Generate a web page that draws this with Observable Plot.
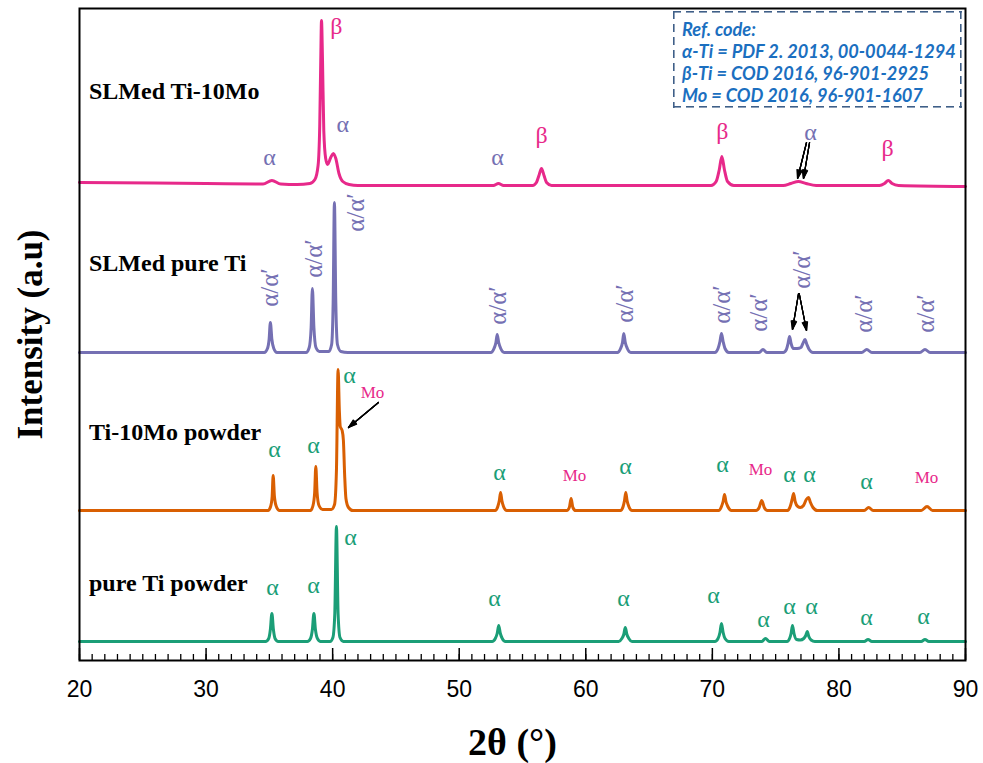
<!DOCTYPE html>
<html>
<head>
<meta charset="utf-8">
<script src="https://cdn.jsdelivr.net/npm/d3@7"></script>
<script src="https://cdn.jsdelivr.net/npm/@observablehq/plot@0.6"></script>
<style>
  body { margin: 0; background: #fff; }
  #chart { position: relative; width: 983px; height: 763px; }
  #ref {
    position: absolute; left: 673px; top: 11px; width: 289px; height: 97px;
    box-sizing: border-box; padding: 7px 0 0 9px;
    font-family: Lato, "Liberation Sans", sans-serif; font-weight: bold; font-style: italic;
    font-size: 18.2px; line-height: 22px; color: #1b6fc0; white-space: nowrap;
    background:
      repeating-linear-gradient(90deg, #3f5f88 0 8px, transparent 8px 13px) top left / 100% 1.6px no-repeat,
      repeating-linear-gradient(90deg, #3f5f88 0 8px, transparent 8px 13px) bottom left / 100% 1.6px no-repeat,
      repeating-linear-gradient(180deg, #3f5f88 0 8px, transparent 8px 13px) top left / 1.6px 100% no-repeat,
      repeating-linear-gradient(180deg, #3f5f88 0 8px, transparent 8px 13px) top right / 1.6px 100% no-repeat;
  }
</style>
</head>
<body>
<div id="chart">
  <div id="ref">
    <div>Ref. code:</div>
    <div>α-Ti = PDF 2. 2013, 00-0044-1294</div>
    <div>β-Ti = COD 2016, 96-901-2925</div>
    <div>Mo = COD 2016, 96-901-1607</div>
  </div>
</div>
<script>
// XRD patterns, 2θ (degrees) vs. intensity above each pattern's own baseline (a.u.)
const pureTiPowder = [
  [20, 0], [34.7, 0], [34.95, 3], [35.08, 12], [35.2, 28], [35.32, 12], [35.45, 3], [35.7, 0],
  [38.0, 0], [38.25, 3], [38.4, 12], [38.52, 28], [38.64, 12], [38.8, 3], [39.05, 0],
  [39.8, 0], [40.02, 4], [40.17, 28], [40.3, 115], [40.43, 28], [40.58, 4], [40.85, 0],
  [52.6, 0], [52.85, 3], [53.0, 8], [53.12, 16], [53.25, 8], [53.4, 3], [53.65, 0],
  [62.6, 0], [62.85, 3], [63.0, 7], [63.12, 14], [63.25, 7], [63.4, 3], [63.65, 0],
  [70.2, 0], [70.45, 3], [70.6, 9], [70.72, 18], [70.85, 9], [71.0, 3], [71.3, 0],
  [73.9, 0], [74.2, 3], [74.5, 0],
  [75.9, 0], [76.1, 3], [76.22, 8], [76.33, 16], [76.45, 8], [76.65, 2], [76.95, 1.5],
  [77.22, 3], [77.38, 6], [77.5, 10], [77.62, 5], [77.8, 1.5], [78.1, 0],
  [82.0, 0], [82.3, 2], [82.6, 0],
  [86.5, 0], [86.8, 2], [87.1, 0], [90, 0]
];
const ti10MoPowder = [
  [20, 0], [34.9, 0], [35.1, 4], [35.22, 14], [35.3, 35], [35.4, 14], [35.55, 4], [35.8, 0],
  [38.25, 0], [38.45, 5], [38.58, 18], [38.67, 44], [38.77, 18], [38.92, 5], [39.2, 1],
  [39.9, 1], [40.15, 6], [40.3, 40], [40.43, 141], [40.53, 100], [40.6, 84], [40.75, 80],
  [40.85, 70], [40.95, 35], [41.05, 12], [41.25, 3], [41.6, 0],
  [52.85, 0], [53.05, 4], [53.17, 10], [53.27, 18], [53.37, 10], [53.5, 4], [53.75, 0],
  [58.5, 0], [58.7, 3], [58.84, 12], [58.98, 3], [59.2, 0],
  [62.75, 0], [62.95, 4], [63.06, 10], [63.16, 18], [63.26, 10], [63.4, 4], [63.65, 0],
  [70.5, 0], [70.72, 4], [70.85, 9], [70.96, 16], [71.07, 9], [71.22, 4], [71.5, 0],
  [73.45, 0], [73.7, 3], [73.9, 10], [74.1, 3], [74.35, 0],
  [75.95, 0], [76.15, 4], [76.3, 11], [76.42, 17], [76.54, 9], [76.75, 4], [76.95, 3],
  [77.2, 5], [77.42, 11], [77.6, 13], [77.75, 8], [77.95, 3], [78.3, 0],
  [82.0, 0], [82.35, 3], [82.7, 0],
  [86.5, 0], [86.96, 4], [87.4, 0], [90, 0]
];
const slmPureTi = [
  [20, 0], [34.6, 0], [34.85, 4], [34.98, 13], [35.08, 30], [35.2, 13], [35.35, 4], [35.6, 0],
  [37.9, 0], [38.15, 5], [38.3, 25], [38.4, 64], [38.52, 25], [38.68, 5], [38.95, 1],
  [39.7, 1], [39.92, 8], [40.04, 50], [40.14, 150], [40.25, 50], [40.38, 8], [40.65, 1], [41.2, 0],
  [52.5, 0], [52.75, 4], [52.9, 10], [53.0, 18], [53.12, 10], [53.28, 4], [53.55, 0],
  [62.5, 0], [62.75, 4], [62.9, 10], [63.0, 19], [63.12, 10], [63.28, 4], [63.55, 0],
  [70.2, 0], [70.45, 4], [70.6, 11], [70.72, 19], [70.85, 11], [71.0, 4], [71.3, 0],
  [73.7, 0], [74.0, 3], [74.3, 0],
  [75.6, 0], [75.85, 3], [75.98, 9], [76.1, 16], [76.22, 9], [76.4, 4], [76.7, 4],
  [77.0, 5], [77.15, 9], [77.32, 13], [77.47, 8], [77.65, 3], [77.95, 0],
  [81.8, 0], [82.2, 3], [82.6, 0],
  [86.4, 0], [86.8, 3], [87.2, 0], [90, 0]
];
const slmTi10Mo = [
  [20, 3], [30, 2], [34.5, 1.5], [35.2, 5], [35.9, 1.5], [37.2, 1],
  [38.2, 2], [38.6, 6], [38.85, 20], [38.98, 60], [39.06, 125], [39.12, 165], [39.2, 125],
  [39.3, 55], [39.45, 27], [39.6, 21], [39.85, 28], [40.05, 32], [40.25, 27], [40.5, 12],
  [40.8, 4], [41.3, 1], [42, 0],
  [52.7, 0], [53.1, 2], [53.5, 0],
  [55.8, 0], [56.1, 3], [56.3, 10], [56.5, 17], [56.7, 10], [56.9, 3], [57.3, 0],
  [69.9, 0], [70.3, 4], [70.55, 16], [70.75, 29], [70.95, 16], [71.2, 4], [71.7, 0],
  [75.6, 0], [76.2, 2], [76.8, 4], [77.4, 2], [78.2, 0],
  [83.2, 0], [83.6, 2], [83.9, 5], [84.2, 2], [84.7, 0], [90, -1]
];

const sampleNames = ["pure Ti powder", "Ti-10Mo powder", "SLMed pure Ti", "SLMed Ti-10Mo"];
const baselines = [19, 150, 308, 475];
const sampleColors = ["#1b9e77", "#d95f02", "#7570b3", "#e7298a"];
const nameLevels = [77, 228, 397, 569];

// Phase labels: [2θ, intensity level, text]
const slmTi10MoLabels = [
  [35.01, 503, "α"], [40.3, 634, "β"], [40.8, 536, "α"], [53.03, 503, "α"],
  [56.5, 525, "β"], [70.8, 529, "β"], [77.76, 528, "α"], [83.84, 512, "β"]
];
const slmPureTiLabels = [
  [35.09, 373, "α/α′"], [38.49, 402, "α/α′"], [41.81, 448, "α/α′"], [53.03, 355, "α/α′"],
  [63.06, 357, "α/α′"], [70.77, 356, "α/α′"], [73.7, 348, "α/α′"], [77.12, 391, "α/α′"],
  [82.0, 347, "α/α′"], [86.84, 347, "α/α′"]
];
const ti10MoPowderLabels = [
  [35.41, 211, "α"], [38.49, 215, "α"], [41.33, 285, "α"], [43.15, 268, "Mo"],
  [53.18, 188, "α"], [59.11, 185, "Mo"], [63.14, 194, "α"], [70.8, 196, "α"],
  [73.8, 191, "Mo"], [76.1, 186, "α"], [77.68, 186, "α"], [82.18, 179, "α"], [86.92, 183, "Mo"]
];
const pureTiPowderLabels = [
  [35.25, 73, "α"], [38.49, 75, "α"], [41.41, 123, "α"], [52.79, 62, "α"], [62.98, 62, "α"],
  [70.09, 65, "α"], [74.04, 41, "α"], [76.1, 54, "α"], [77.83, 54, "α"], [82.18, 43, "α"],
  [86.68, 44, "α"]
];

// Pointer arrows: [2θ start, level start, 2θ end, level end]
const pointers = [
  [77.44, 518, 76.73, 482], [77.68, 518, 77.2, 482],
  [76.81, 367, 76.33, 331], [76.86, 367, 77.44, 330],
  [43.62, 258, 41.25, 233]
];

const rows = [pureTiPowder, ti10MoPowder, slmPureTi, slmTi10Mo].flatMap((trace, i) =>
  trace.map(([theta, v]) => ({sample: sampleNames[i], theta, intensity: baselines[i] + v}))
);

const alphaPurple = "#7570b3", betaPink = "#e7298a", alphaGreen = "#1b9e77";
const toLabel = (color) => ([theta, level, text]) => ({theta, level, text, color});
const upright = [
  ...slmTi10MoLabels.map(([t, l, s]) => ({theta: t, level: l, text: s, color: s === "β" ? betaPink : alphaPurple})),
  ...ti10MoPowderLabels.map(([t, l, s]) => ({theta: t, level: l, text: s, color: s === "Mo" ? betaPink : alphaGreen})),
  ...pureTiPowderLabels.map(toLabel(alphaGreen))
];
const greek = upright.filter((d) => d.text !== "Mo");
const mo = upright.filter((d) => d.text === "Mo");
const rotated = slmPureTiLabels.map(toLabel(alphaPurple));
const arrowRows = pointers.map(([x1, y1, x2, y2]) => ({x1, y1, x2, y2}));

const serif = "'Liberation Serif', 'Times New Roman', serif";

const chart = Plot.plot({
  width: 983,
  height: 763,
  marginLeft: 79,
  marginRight: 18,
  marginTop: 8,
  marginBottom: 103,
  style: {fontFamily: "'Liberation Sans', Arial, sans-serif", background: "white", color: "black"},
  x: {domain: [20, 90], label: null},
  y: {domain: [0, 652], axis: null, label: null},
  color: {domain: sampleNames, range: sampleColors},
  marks: [
    Plot.axisX(d3.range(20, 91, 1), {tickSize: -6, tickFormat: () => "", label: null, strokeWidth: 1.3}),
    Plot.axisX(d3.range(20, 91, 10), {tickSize: -12, tickPadding: 32, fontSize: 23, label: null, strokeWidth: 1.5}),
    Plot.line(rows, {x: "theta", y: "intensity", z: "sample", stroke: "sample", strokeWidth: 3, curve: "monotone-x"}),
    Plot.text(sampleNames, {
      x: sampleNames.map(() => 20.75), y: nameLevels, text: (d) => d,
      textAnchor: "start", fontSize: 24, fontWeight: "bold", fontFamily: serif, fill: "black"
    }),
    Plot.text(greek, {x: "theta", y: "level", text: "text", fill: (d) => d.color, fontSize: 24, fontFamily: serif}),
    Plot.text(mo, {x: "theta", y: "level", text: "text", fill: (d) => d.color, fontSize: 17, fontFamily: serif}),
    Plot.text(rotated, {x: "theta", y: "level", text: "text", fill: (d) => d.color, rotate: -90, fontSize: 25, fontFamily: serif}),
    ...[36, 27, 18, 9].map((a) =>
      Plot.arrow(arrowRows, {x1: "x1", y1: "y1", x2: "x2", y2: "y2", stroke: "black", strokeWidth: 1.2, headAngle: a, headLength: 11})
    ),
    Plot.text(["Intensity (a.u)"], {
      frameAnchor: "left", dx: -49, rotate: -90, textAnchor: "middle", lineAnchor: "middle",
      fontSize: 35, fontWeight: "bold", fontFamily: serif, fill: "black"
    }),
    Plot.text(["2θ\u00a0(°)"], {
      frameAnchor: "bottom", dy: 82, dx: -10, textAnchor: "middle", lineAnchor: "middle",
      fontSize: 38, fontWeight: "bold", fontFamily: serif, fill: "black"
    }),
    Plot.frame({stroke: "black", strokeWidth: 2})
  ]
});

document.getElementById("chart").prepend(chart);
</script>
</body>
</html>
